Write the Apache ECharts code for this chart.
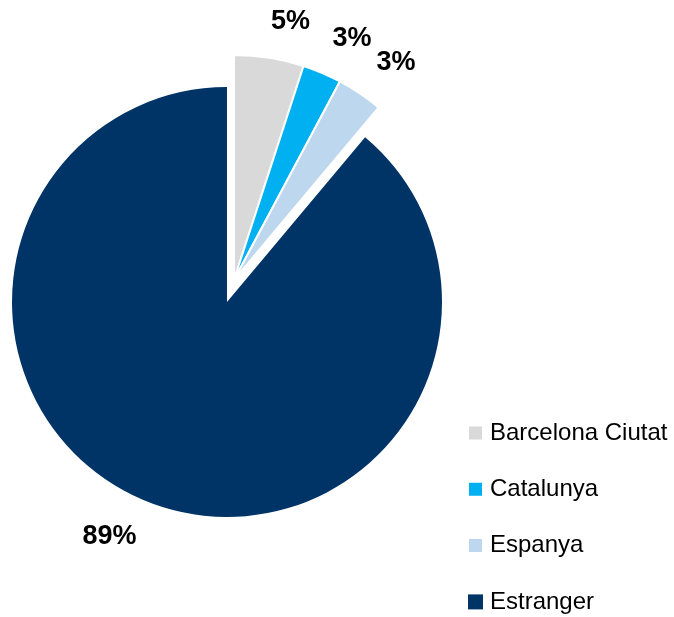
<!DOCTYPE html>
<html>
<head>
<meta charset="utf-8">
<script src="https://cdn.jsdelivr.net/npm/echarts@6/dist/echarts.min.js"></script>
<style>
  html, body { margin: 0; padding: 0; background: #fff; }
  #chart { width: 674px; height: 617px; }
</style>
</head>
<body>
<div id="chart"></div>
<script>
// origen dels visitants (percentatges)
const categories = ["Barcelona Ciutat", "Catalunya", "Espanya", "Estranger"];
const values = [5.0, 2.8, 3.3, 88.9];
const colors = ["#D9D9D9", "#00B0F0", "#BDD7EE", "#003366"];

const chart = echarts.init(document.getElementById("chart"));

const labelFont = {
  fontFamily: "Liberation Sans, Arial, sans-serif",
  fontWeight: "bold",
  fontSize: 27,
  color: "#000",
};

// slice gran (Estranger) - les altres queden transparents
const bigData = categories.map((name, i) => {
  if (i === 3) {
    return { name: name, value: values[i], itemStyle: { color: colors[i] } };
  }
  return {
    name: "_hidden" + i,
    value: values[i],
    itemStyle: { color: "transparent" },
    label: { show: false },
  };
});

// slices petites, separades del centre
const smallData = categories.map((name, i) => {
  if (i !== 3) {
    return { name: name, value: values[i], itemStyle: { color: colors[i] } };
  }
  return {
    name: "_hidden" + i,
    value: values[i],
    itemStyle: { color: "transparent", borderWidth: 0 },
    label: { show: false },
  };
});

const pctFormatter = (p) => Math.round(p.percent) + "%";

const option = {
  animation: false,
  legend: {
    orient: "vertical",
    left: 467,
    top: 421,
    padding: 0,
    itemWidth: 15,
    itemHeight: 15,
    itemGap: 32.3,
    icon: "rect",
    data: categories,
    textStyle: {
      fontFamily: "Liberation Sans, Arial, sans-serif",
      fontSize: 24,
      color: "#000",
      padding: [0, 0, 0, 2],
    },
    selectedMode: false,
  },
  series: [
    {
      type: "pie",
      silent: true,
      center: [227, 302],
      radius: 215,
      startAngle: 90,
      clockwise: true,
      avoidLabelOverlap: false,
      labelLayout: { hideOverlap: false },
      data: bigData,
      label: Object.assign(
        { show: true, position: "outside", formatter: pctFormatter, distanceToLabelLine: 5 },
        labelFont
      ),
      labelLine: { show: false, length: 35, length2: 0 },
    },
    {
      type: "pie",
      silent: true,
      center: [234, 280],
      radius: 225,
      startAngle: 90,
      clockwise: true,
      avoidLabelOverlap: false,
      labelLayout: { hideOverlap: false },
      data: smallData,
      itemStyle: { borderColor: "#fff", borderWidth: 2 },
      label: Object.assign(
        { show: true, position: "outside", formatter: pctFormatter, distanceToLabelLine: -4 },
        labelFont
      ),
      labelLine: { show: false, length: 37, length2: 0 },
    },
  ],
};

chart.setOption(option);
</script>
</body>
</html>
